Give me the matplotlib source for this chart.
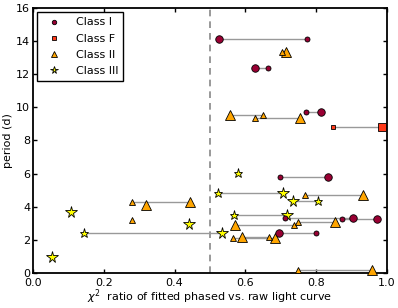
import numpy as np
import matplotlib
matplotlib.use('Agg')
import matplotlib.pyplot as plt
from matplotlib.lines import Line2D

# one row per star: class, period (d), chi2 ratio from two fits (small / large marker)
star_class = ['I', 'II', 'I', 'II', 'II', 'I', 'F', 'III', 'I', 'III',
              'II', 'III', 'III', 'I', 'I', 'II', 'II', 'III', 'II', 'II',
              'I', 'II', 'II', 'II', 'II', 'III', 'III', 'III']
period = [14.11, 13.35, 12.38, 9.54, 9.35, 9.72, 8.84, 6.06, 5.78, 4.81,
          4.71, 4.37, 3.50, 3.30, 3.24, 2.92, 3.06, 2.43, 2.08, 2.14,
          2.40, 0.20, 4.31, 4.10, 3.18, 3.66, 0.93, 2.94]
chi2_small = [0.774, 0.704, 0.664, 0.651, 0.628, 0.771, 0.847, 0.578, 0.699, 0.524,
              0.769, 0.805, 0.567, 0.711, 0.872, 0.738, 0.750, 0.144, 0.566, 0.668,
              0.801, 0.750, 0.281, None, 0.281, None, None, None]
chi2_large = [0.525, 0.714, 0.626, 0.556, 0.754, 0.815, 0.987, None, 0.833, 0.707,
              0.932, 0.735, 0.718, 0.905, 0.971, 0.571, 0.854, 0.533, 0.684, 0.592,
              0.694, 0.957, 0.443, 0.319, None, 0.106, 0.053, 0.440]

class_names = ['I', 'F', 'II', 'III']
markers = {'I': 'o', 'F': 's', 'II': '^', 'III': '*'}
colors = {'I': '#990033', 'F': '#ff3a1a', 'II': '#ffa500', 'III': '#ffff00'}
size_small = {'I': 3.6, 'F': 3.4, 'II': 5, 'III': 6.5}
size_large = {'I': 5.4, 'F': 5.2, 'II': 7.2, 'III': 8.5}

plt.rcParams['font.family'] = 'DejaVu Sans'
plt.rcParams['font.size'] = 8

fig = plt.figure(figsize=(3.98, 3.08), dpi=100)
ax = fig.add_axes([0.083, 0.114, 0.889, 0.86])

ax.axvline(0.5, color='#888888', ls='--', lw=1.2, dashes=(4, 3), zorder=1)

for c, p, xs, xl in zip(star_class, period, chi2_small, chi2_large):
    if xs is not None and xl is not None:
        ax.plot([xs, xl], [p, p], color='#999999', lw=1, zorder=2)
    if xl is not None:
        ax.plot(xl, p, marker=markers[c], ms=size_large[c], mfc=colors[c],
                mec='black', mew=0.6, ls='none', zorder=3, clip_on=False)
    if xs is not None:
        ax.plot(xs, p, marker=markers[c], ms=size_small[c], mfc=colors[c],
                mec='black', mew=0.6, ls='none', zorder=4, clip_on=False)

handles = [Line2D([], [], marker=markers[c], ms=3.2 if c != 'II' else 4.5,
                  mfc=colors[c], mec='black', mew=0.6, ls='none')
           for c in class_names]
handles[3].set_markersize(5.5)
leg = ax.legend(handles, ['Class ' + c for c in class_names], loc='upper left',
                fancybox=False, framealpha=1, edgecolor='black', fontsize=8,
                borderaxespad=0.4, handletextpad=1.0, labelspacing=0.55,
                borderpad=0.45)
leg.get_frame().set_linewidth(1.0)

ax.set_xlim(0, 1)
ax.set_ylim(0, 16)
ax.set_xticks(np.arange(0, 1.01, 0.2))
ax.set_yticks(np.arange(0, 17, 2))
ax.tick_params(direction='in', top=True, right=True, length=3, width=1, pad=2)
ax.tick_params(axis='x', pad=4)
for s in ax.spines.values():
    s.set_linewidth(1.3)

ax.set_xlabel(r'$\chi^2$  ratio of fitted phased vs. raw light curve', labelpad=-1)
ax.set_ylabel('period (d)', labelpad=2)

fig.savefig('out.png', dpi=100)
